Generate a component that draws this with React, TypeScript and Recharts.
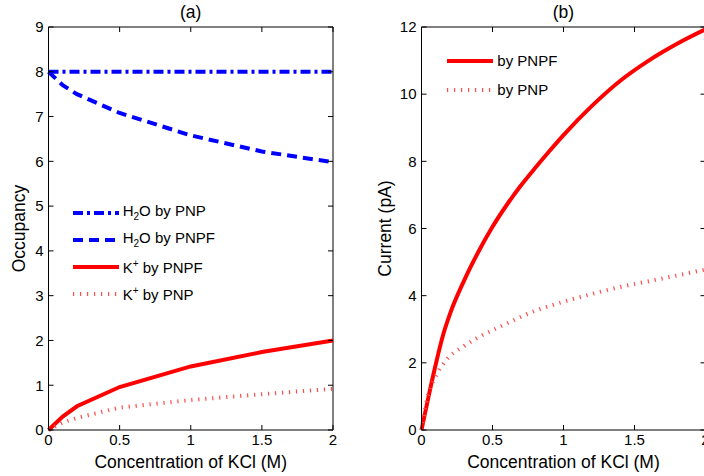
import React from 'react';
import { LineChart, Line, XAxis, YAxis, Legend, Label, ReferenceLine } from 'recharts';

const FONT = '"Liberation Sans", Arial, Helvetica, sans-serif';

// (a) occupancy vs KCl concentration
const concA = [0, 0.1, 0.2, 0.5, 1, 1.5, 2];
const h2oByPnp = [8, 8, 8, 8, 8, 8, 8];
const h2oByPnpf = [8, 7.7, 7.5, 7.08, 6.58, 6.22, 5.98];
const kByPnpf = [0, 0.3, 0.53, 0.96, 1.42, 1.74, 2.0];
const kByPnp = [0, 0.17, 0.27, 0.5, 0.67, 0.8, 0.92];

// (b) current vs KCl concentration
const concB = [0, 0.025, 0.05, 0.1, 0.15, 0.2, 0.3, 0.4, 0.5, 0.6, 0.7, 0.8, 0.9, 1.0, 1.2, 1.4, 1.6, 1.8, 2.0];
const currentByPnpf = [0, 0.5, 1.0, 1.95, 2.8, 3.45, 4.45, 5.3, 6.05, 6.7, 7.28, 7.8, 8.3, 8.78, 9.65, 10.4, 11.0, 11.5, 11.93];
const currentByPnp = [0, 0.65, 1.1, 1.6, 1.95, 2.2, 2.5, 2.76, 2.97, 3.17, 3.37, 3.55, 3.69, 3.82, 4.05, 4.26, 4.43, 4.6, 4.78];

const xTicks = [0, 0.5, 1, 1.5, 2];
const occupancyTicks = [0, 1, 2, 3, 4, 5, 6, 7, 8, 9];
const currentTicks = [0, 2, 4, 6, 8, 10, 12];

type Series = {
  key: string;
  label: React.ReactNode;
  color: string;
  width: number;
  dash?: string;
  curve: 'linear' | 'monotone';
};

const sub = (t: string) => <sub style={{ fontSize: 10, verticalAlign: -4 }}>{t}</sub>;
const sup = (t: string) => <sup style={{ fontSize: 10, verticalAlign: 6 }}>{t}</sup>;

const DOTTED = '1.2 5.8';

const seriesA: Series[] = [
  { key: 'h2oPnp', label: <>H{sub('2')}O by PNP</>, color: '#0000ff', width: 4, dash: '10 4 3 4', curve: 'linear' },
  { key: 'h2oPnpf', label: <>H{sub('2')}O by PNPF</>, color: '#0000ff', width: 4, dash: '10 6', curve: 'linear' },
  { key: 'kPnpf', label: <>K{sup('+')} by PNPF</>, color: '#ff0000', width: 4, curve: 'linear' },
  { key: 'kPnp', label: <>K{sup('+')} by PNP</>, color: '#ff4d4d', width: 4, dash: DOTTED, curve: 'linear' },
];

const seriesB: Series[] = [
  { key: 'pnpf', label: 'by PNPF', color: '#ff0000', width: 4, curve: 'monotone' },
  { key: 'pnp', label: 'by PNP', color: '#ff4d4d', width: 4, dash: DOTTED, curve: 'monotone' },
];

const dataA = concA.map((c, i) => ({
  c,
  h2oPnp: h2oByPnp[i],
  h2oPnpf: h2oByPnpf[i],
  kPnpf: kByPnpf[i],
  kPnp: kByPnp[i],
}));

const dataB = concB.map((c, i) => ({ c, pnpf: currentByPnpf[i], pnp: currentByPnp[i] }));

const tickStyle = { fill: '#000', fontSize: 15, fontFamily: FONT };
const labelStyle = { fill: '#000', fontSize: 17.5, fontFamily: FONT };

const PLOT_TOP = 27;
const CHART_H = 476;
const X_AXIS_H = 46;
const PLOT_BOTTOM = CHART_H - X_AXIS_H;
const TICK = 5;

// matlab-style ticks: pointing inward, on both opposite sides of the box
function makeXTick() {
  return (props: any) => {
    const { x, payload } = props;
    return (
      <g>
        <line x1={x} x2={x} y1={PLOT_BOTTOM} y2={PLOT_BOTTOM - TICK} stroke="#000" />
        <line x1={x} x2={x} y1={PLOT_TOP} y2={PLOT_TOP + TICK} stroke="#000" />
        <text x={x} y={PLOT_BOTTOM + 4} dy="0.71em" textAnchor="middle" {...tickStyle}>
          {payload.value}
        </text>
      </g>
    );
  };
}

function makeYTick(plotLeft: number, plotRight: number) {
  return (props: any) => {
    const { y, payload } = props;
    return (
      <g>
        <line x1={plotLeft} x2={plotLeft + TICK} y1={y} y2={y} stroke="#000" />
        <line x1={plotRight - TICK} x2={plotRight} y1={y} y2={y} stroke="#000" />
        <text x={plotLeft - 5} y={y} dy="0.355em" textAnchor="end" {...tickStyle}>
          {payload.value}
        </text>
      </g>
    );
  };
}

function makeLegend(series: Series[], rowHeight: number) {
  return () => (
    <div style={{ fontFamily: FONT, fontSize: 15, color: '#000', lineHeight: 1 }}>
      {series.map((s) => (
        <div key={s.key} style={{ display: 'flex', alignItems: 'center', height: rowHeight }}>
          <svg width={46} height={10}>
            <line x1={0} y1={5} x2={46} y2={5} stroke={s.color} strokeWidth={s.width} strokeDasharray={s.dash} />
          </svg>
          <span style={{ marginLeft: 4, whiteSpace: 'nowrap' }}>{s.label}</span>
        </div>
      ))}
    </div>
  );
}

type PanelProps = {
  data: any[];
  series: Series[];
  title: string;
  yLabel: string;
  yTicks: number[];
  yMax: number;
  width: number;
  right: number;
  yAxisWidth: number;
  yLabelX: number;
  legendLeft: number;
  legendTop: number;
  rowHeight: number;
};

function Panel(p: PanelProps) {
  const plotRight = p.width - p.right;
  return (
    <LineChart
      width={p.width}
      height={CHART_H}
      data={p.data}
      margin={{ top: PLOT_TOP, right: p.right, bottom: 0, left: 0 }}
    >
      <XAxis
        dataKey="c"
        type="number"
        domain={[0, 2]}
        ticks={xTicks}
        height={X_AXIS_H}
        tickLine={false}
        tick={makeXTick()}
        axisLine={{ stroke: '#000' }}
      >
        <Label value="Concentration of KCl (M)" position="insideBottom" offset={8} style={labelStyle} />
      </XAxis>
      <YAxis
        type="number"
        domain={[0, p.yMax]}
        ticks={p.yTicks}
        width={p.yAxisWidth}
        tickLine={false}
        tick={makeYTick(p.yAxisWidth, plotRight)}
        axisLine={{ stroke: '#000' }}
      >
        <Label
          value={p.yLabel}
          angle={-90}
          position="insideLeft"
          offset={p.yLabelX}
          style={{ ...labelStyle, textAnchor: 'middle' }}
        />
      </YAxis>
      <ReferenceLine
        y={p.yMax}
        stroke="#000"
        label={{ value: p.title, position: 'top', offset: 9, style: labelStyle }}
      />
      <ReferenceLine x={2} stroke="#000" />
      {p.series.map((s) => (
        <Line
          key={s.key}
          dataKey={s.key}
          type={s.curve}
          stroke={s.color}
          strokeWidth={s.width}
          strokeDasharray={s.dash}
          dot={false}
          isAnimationActive={false}
        />
      ))}
      <Legend
        layout="vertical"
        align="center"
        verticalAlign="middle"
        content={makeLegend(p.series, p.rowHeight)}
        wrapperStyle={{ left: p.legendLeft, top: p.legendTop, width: 'auto' }}
      />
    </LineChart>
  );
}

export default function App() {
  return (
    <div
      style={{
        position: 'absolute',
        left: 0,
        top: 0,
        width: 704,
        height: 476,
        overflow: 'hidden',
        background: '#fff',
      }}
    >
      <div style={{ position: 'absolute', left: 0, top: 0 }}>
        <Panel
          data={dataA}
          series={seriesA}
          title="(a)"
          yLabel="Occupancy"
          yTicks={occupancyTicks}
          yMax={9}
          width={345}
          right={12}
          yAxisWidth={48.5}
          yLabelX={19}
          legendLeft={72.7}
          legendTop={199}
          rowHeight={27}
        />
      </div>
      <div style={{ position: 'absolute', left: 360, top: 0 }}>
        <Panel
          data={dataB}
          series={seriesB}
          title="(b)"
          yLabel="Current (pA)"
          yTicks={currentTicks}
          yMax={12}
          width={360}
          right={14.5}
          yAxisWidth={61.5}
          yLabelX={25}
          legendLeft={87.3}
          legendTop={46}
          rowHeight={29.3}
        />
      </div>
    </div>
  );
}
